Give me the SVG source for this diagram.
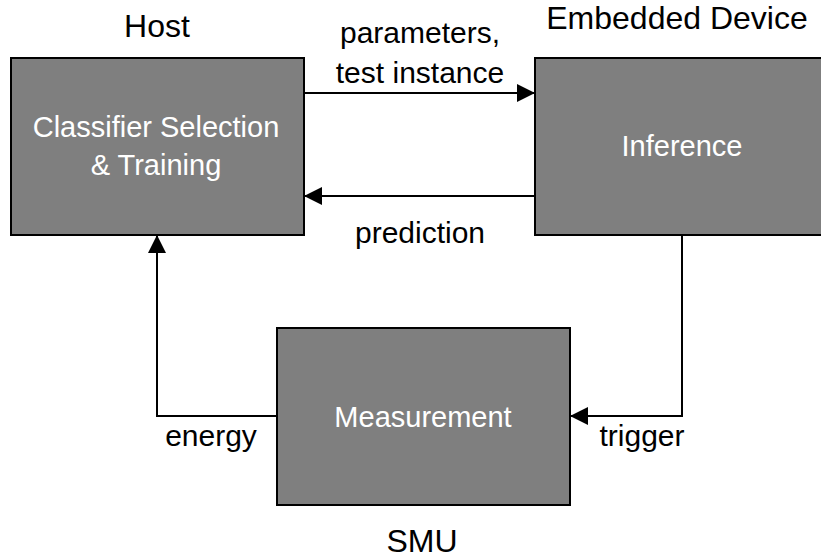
<svg xmlns="http://www.w3.org/2000/svg" width="821" height="558" viewBox="0 0 821 558">
  <style>
    .box { fill: #7f7f7f; stroke: #000; stroke-width: 2; }
    .inner { font-family: "Liberation Sans", Arial, sans-serif; font-size: 29px; fill: #ffffff; text-anchor: middle; }
    .title { font-family: "Liberation Sans", Arial, sans-serif; font-size: 32px; fill: #000; text-anchor: middle; }
    .label { font-family: "Liberation Sans", Arial, sans-serif; font-size: 30px; fill: #000; text-anchor: middle; }
    .link { fill: none; stroke: #000; stroke-width: 2; }
  </style>
  <defs>
    <marker id="arrow" viewBox="0 0 18 18" refX="18" refY="9" markerWidth="18" markerHeight="18" markerUnits="userSpaceOnUse" orient="auto">
      <path d="M0,0 L18,9 L0,18 Z" fill="#000"/>
    </marker>
  </defs>
  <rect width="821" height="558" fill="#ffffff"/>

  <g id="host">
    <rect class="box" x="11" y="58" width="293" height="177"/>
    <text class="title" x="157" y="37">Host</text>
    <text class="inner" x="156" y="137">Classifier Selection</text>
    <text class="inner" x="156" y="175">&amp; Training</text>
  </g>

  <g id="device">
    <rect class="box" x="535" y="58" width="293" height="177"/>
    <text class="title" x="677" y="29">Embedded Device</text>
    <text class="inner" x="682" y="156">Inference</text>
  </g>

  <g id="smu">
    <rect class="box" x="277" y="328" width="293" height="177"/>
    <text class="inner" x="423" y="427">Measurement</text>
    <text class="title" x="422" y="552">SMU</text>
  </g>

  <g id="connectors">
    <path class="link" d="M304,93 L535,93" marker-end="url(#arrow)"/>
    <path class="link" d="M535,196 L304,196" marker-end="url(#arrow)"/>
    <path class="link" d="M682,235 L682,416 L570,416" marker-end="url(#arrow)"/>
    <path class="link" d="M277,416 L157,416 L157,235" marker-end="url(#arrow)"/>
    <text class="label" x="420" y="43">parameters,</text>
    <text class="label" x="420" y="83">test instance</text>
    <text class="label" x="420" y="243">prediction</text>
    <text class="label" x="211" y="446">energy</text>
    <text class="label" x="642" y="446">trigger</text>
  </g>
</svg>
